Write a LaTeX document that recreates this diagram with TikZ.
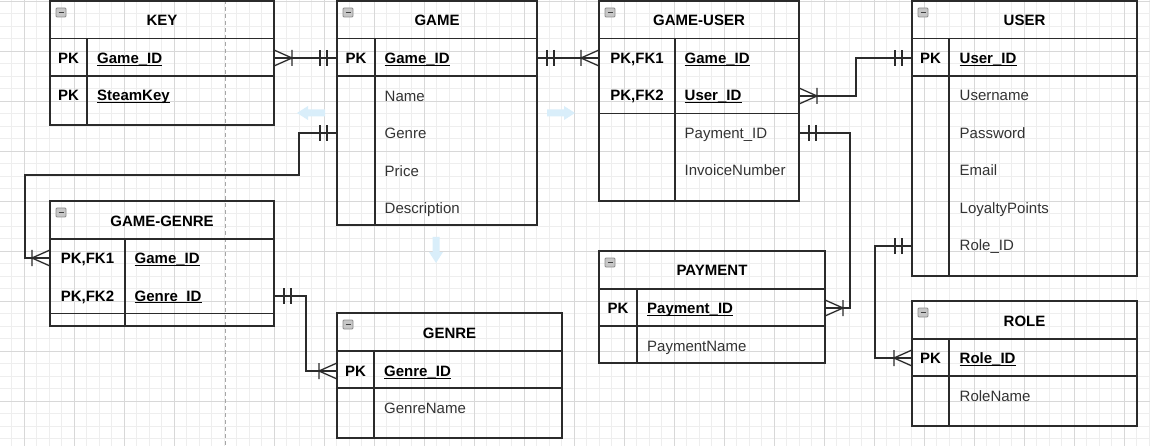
\documentclass[tikz,border=0pt]{standalone}
\usepackage{fontspec}
\setmainfont{Liberation Sans}
\usetikzlibrary{fit}
\definecolor{ink}{HTML}{333333}
\definecolor{lineink}{HTML}{2B2B2B}
\definecolor{gridminor}{HTML}{EEEEEE}
\definecolor{gridmajor}{HTML}{D8D8D8}
\definecolor{hint}{HTML}{D9EEFA}
\newcommand\ertable[8]{%
  \node[tblbox, fit={(#2,#3) (#4,#5)}] (#1) {};
  \draw[tline] (#2,#7) -- (#4,#7);
  \draw[tline] (#2,#8) -- (#4,#8);
  \draw[tline] (#6,#7) -- (#6,#5);
  \draw[iconbox] (#2+6,#3+7) rectangle (#2+16,#3+16);
  \draw[iconminus] (#2+8.5,#3+11.5) -- (#2+13.5,#3+11.5);
}
\newcommand\ulnode[1]{\draw[uline] ([yshift=-1.7pt]#1.base west) -- ([yshift=-1.7pt]#1.base east);}
\begin{document}
\begin{tikzpicture}[x=1pt,y=-1pt,
  tblbox/.style={draw=lineink, line width=1.4pt, inner sep=0pt, outer sep=0pt},
  tline/.style={draw=lineink, line width=1.3pt},
  iconbox/.style={draw=black!45, fill=black!22, line width=0.8pt, rounded corners=1pt},
  iconminus/.style={draw=black!75, line width=1.2pt},
  hd/.style={font=\fontsize{15}{18}\selectfont\bfseries, anchor=base, inner sep=0pt},
  pk/.style={font=\fontsize{15}{18}\selectfont\bfseries, anchor=base, inner sep=0pt},
  kfld/.style={font=\fontsize{15}{18}\selectfont\bfseries, anchor=base west, inner sep=0pt},
  fld/.style={font=\fontsize{15}{18}\selectfont, text=ink, anchor=base west, inner sep=0pt},
  uline/.style={draw=black, line width=1.2pt},
  conn/.style={draw=lineink, line width=1.3pt},
  crow/.pic={\draw[conn] (0,-8) -- (18,0) -- (0,8) (0,0) -- (18,0) (18,-8) -- (18,8);},
  one/.pic={\draw[conn] (10,-8) -- (10,8) (17,-8) -- (17,8);}
]
\useasboundingbox (0,0) rectangle (1150,446);
\fill[white] (0,0) rectangle (1150,446);
% grid
\foreach \x in {-1,11.5,...,1150} \draw[gridminor, line width=0.8pt] (\x,0) -- (\x,446);
\foreach \y in {1,13.5,...,446} \draw[gridminor, line width=0.8pt] (0,\y) -- (1150,\y);
\foreach \x in {24,74,124,174,274,324,...,1124} \draw[gridmajor, line width=0.9pt] (\x,0) -- (\x,446);
\foreach \y in {1,51,...,446} \draw[gridmajor, line width=0.9pt] (0,\y) -- (1150,\y);
\draw[black!35, line width=0.9pt, dash pattern=on 4pt off 3pt] (225,0) -- (225,446);

% hint arrows
\fill[hint] (297,113) -- (308,106) -- (308,109.5) -- (325,109.5) -- (325,116.5) -- (308,116.5) -- (308,120) -- cycle;
\fill[hint] (575,113) -- (564,106) -- (564,109.5) -- (547,109.5) -- (547,116.5) -- (564,116.5) -- (564,120) -- cycle;
\fill[hint] (436,263) -- (429,252) -- (432.5,252) -- (432.5,237) -- (439.5,237) -- (439.5,252) -- (443,252) -- cycle;

% ---------------- KEY
\ertable{key}{50}{1}{274}{125}{87}{38.5}{76}
\node[hd] (key-t) at (162,26) {KEY};
\node[pk] (key-pk1) at (68.5,63.5) {PK};
\node[kfld] (key-f1) at (97,63.5) {Game\_ID}; \ulnode{key-f1}
\node[pk] (key-pk2) at (68.5,101) {PK};
\node[kfld] (key-f2) at (97,101) {SteamKey}; \ulnode{key-f2}
\coordinate (key-gid-e) at (274,58);

% ---------------- GAME
\ertable{game}{337}{1}{537}{225}{375}{38.5}{76}
\node[hd] (game-t) at (437,26) {GAME};
\node[pk] (game-pk1) at (356,63.5) {PK};
\node[kfld] (game-f1) at (384.5,63.5) {Game\_ID}; \ulnode{game-f1}
\node[fld] (game-f2) at (384.5,101.5) {Name};
\node[fld] (game-f3) at (384.5,139) {Genre};
\node[fld] (game-f4) at (384.5,176.5) {Price};
\node[fld] (game-f5) at (384.5,214) {Description};
\coordinate (game-gid-w) at (337,58);
\coordinate (game-gid-e) at (537,58);
\coordinate (game-genre-w) at (337,133);

% ---------------- GAME-USER
\ertable{gu}{599}{1}{799}{201}{675}{38.5}{113.5}
\node[hd] (gu-t) at (699,26) {GAME-USER};
\node[pk] (gu-pk1) at (637,63.5) {PK,FK1};
\node[kfld] (gu-f1) at (684.5,63.5) {Game\_ID}; \ulnode{gu-f1}
\node[pk] (gu-pk2) at (637,101) {PK,FK2};
\node[kfld] (gu-f2) at (684.5,101) {User\_ID}; \ulnode{gu-f2}
\node[fld] (gu-f3) at (684.5,138.5) {Payment\_ID};
\node[fld] (gu-f4) at (684.5,176) {InvoiceNumber};
\coordinate (gu-gid-w) at (599,58);
\coordinate (gu-uid-e) at (799,96);
\coordinate (gu-pid-e) at (799,133);

% ---------------- USER
\ertable{user}{912}{1}{1137}{276}{949}{38.5}{76}
\node[hd] (user-t) at (1024.5,26) {USER};
\node[pk] (user-pk1) at (930.5,63.5) {PK};
\node[kfld] (user-f1) at (959.5,63.5) {User\_ID}; \ulnode{user-f1}
\node[fld] (user-f2) at (959.5,101) {Username};
\node[fld] (user-f3) at (959.5,138.5) {Password};
\node[fld] (user-f4) at (959.5,176) {Email};
\node[fld] (user-f5) at (959.5,213.5) {LoyaltyPoints};
\node[fld] (user-f6) at (959.5,251) {Role\_ID};
\coordinate (user-uid-w) at (912,58);
\coordinate (user-rid-w) at (912,246);

% ---------------- GAME-GENRE
\ertable{gg}{50}{201}{274}{326}{125}{239}{313.5}
\node[hd] (gg-t) at (162,226) {GAME-GENRE};
\node[pk] (gg-pk1) at (87.5,263.5) {PK,FK1};
\node[kfld] (gg-f1) at (134.5,263.5) {Game\_ID}; \ulnode{gg-f1}
\node[pk] (gg-pk2) at (87.5,301) {PK,FK2};
\node[kfld] (gg-f2) at (134.5,301) {Genre\_ID}; \ulnode{gg-f2}
\coordinate (gg-gid-w) at (50,258);
\coordinate (gg-genid-e) at (274,296);

% ---------------- GENRE
\ertable{genre}{337}{313}{562}{438}{374}{351}{388}
\node[hd] (genre-t) at (449.5,338) {GENRE};
\node[pk] (genre-pk1) at (355.5,376.5) {PK};
\node[kfld] (genre-f1) at (384,376.5) {Genre\_ID}; \ulnode{genre-f1}
\node[fld] (genre-f2) at (384,413.5) {GenreName};
\coordinate (genre-gid-w) at (337,371);

% ---------------- PAYMENT
\ertable{pay}{599}{251}{825}{363}{637}{289}{326}
\node[hd] (pay-t) at (712,276) {PAYMENT};
\node[pk] (pay-pk1) at (618,313.5) {PK};
\node[kfld] (pay-f1) at (647,313.5) {Payment\_ID}; \ulnode{pay-f1}
\node[fld] (pay-f2) at (647,351) {PaymentName};
\coordinate (pay-pid-e) at (825,308);

% ---------------- ROLE
\ertable{role}{912}{301}{1137}{426}{949}{339}{376}
\node[hd] (role-t) at (1024.5,326) {ROLE};
\node[pk] (role-pk1) at (930.5,363.5) {PK};
\node[kfld] (role-f1) at (959.5,363.5) {Role\_ID}; \ulnode{role-f1}
\node[fld] (role-f2) at (959.5,401) {RoleName};
\coordinate (role-rid-w) at (912,358);

% ---------------- connectors
\draw[conn] (key-gid-e) -- (game-gid-w);
\pic at (key-gid-e) {crow};
\pic[rotate=180] at (game-gid-w) {one};

\draw[conn] (game-gid-e) -- (gu-gid-w);
\pic at (game-gid-e) {one};
\pic[rotate=180] at (gu-gid-w) {crow};

\draw[conn] (gu-uid-e) -- (856,96) |- (user-uid-w);
\pic at (gu-uid-e) {crow};
\pic[rotate=180] at (user-uid-w) {one};

\draw[conn] (gu-pid-e) -- (850,133) |- (pay-pid-e);
\pic at (gu-pid-e) {one};
\pic at (pay-pid-e) {crow};

\draw[conn] (user-rid-w) -- (875,246) |- (role-rid-w);
\pic[rotate=180] at (user-rid-w) {one};
\pic[rotate=180] at (role-rid-w) {crow};

\draw[conn] (game-genre-w) -- (299,133) -- (299,175) -- (25,175) |- (gg-gid-w);
\pic[rotate=180] at (game-genre-w) {one};
\pic[rotate=180] at (gg-gid-w) {crow};

\draw[conn] (gg-genid-e) -- (306,296) |- (genre-gid-w);
\pic at (gg-genid-e) {one};
\pic[rotate=180] at (genre-gid-w) {crow};
\end{tikzpicture}
\end{document}
